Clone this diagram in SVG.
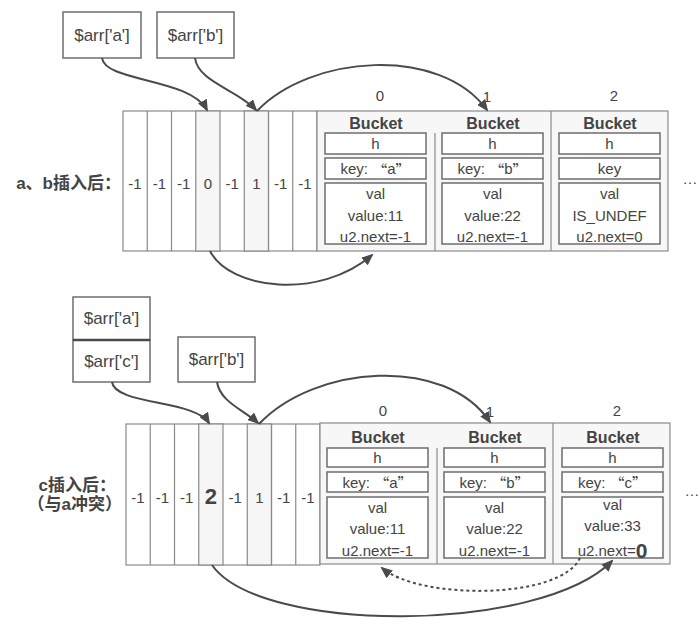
<svg xmlns="http://www.w3.org/2000/svg" width="700" height="618" viewBox="0 0 700 618">
<defs>
<marker id="ah" markerUnits="userSpaceOnUse" markerWidth="12" markerHeight="10" refX="10" refY="5" orient="auto">
<path d="M0,0 L12,5 L0,10 z" fill="#4a4a4a"/>
</marker>
<style>
.bg{fill:#ffffff}
.cell{fill:#ffffff;stroke:#8a8a8a;stroke-width:1.2}
.hl{fill:#f6f6f6;stroke:#8a8a8a;stroke-width:1.2}
.bk{fill:#f7f7f7;stroke:#8a8a8a;stroke-width:1.2}
.box{fill:#ffffff;stroke:#6e6e6e;stroke-width:1.5}
.ln{stroke:#8a8a8a;stroke-width:1.2;fill:none}
.t{font-family:"Liberation Sans",Arial,sans-serif;font-size:15px;fill:#444;text-anchor:middle;dominant-baseline:central}
.q{font-family:"Noto Sans CJK SC",sans-serif}
.tb{font-family:"Liberation Sans",Arial,sans-serif;font-size:16px;font-weight:bold;fill:#444;text-anchor:middle;dominant-baseline:central}
.tv{font-family:"Liberation Sans",Arial,sans-serif;font-size:17px;fill:#444;text-anchor:middle;dominant-baseline:central}
.cn{font-family:"Liberation Sans","Noto Sans CJK SC",sans-serif;font-size:17px;font-weight:bold;fill:#444;text-anchor:end;dominant-baseline:central}
.arr{fill:none;stroke:#4a4a4a;stroke-width:2;marker-end:url(#ah)}
.dash{fill:none;stroke:#4a4a4a;stroke-width:2;stroke-dasharray:3,3;marker-end:url(#ah)}
</style>
</defs>
<rect class="bg" x="0" y="0" width="700" height="618"/>

<!-- ===== Top diagram ===== -->
<g id="var-a-top">
<rect class="box" x="63" y="12" width="78" height="46"/>
<text class="tv" x="102" y="35">$arr['a']</text>
</g>
<g id="var-b-top">
<rect class="box" x="157" y="12" width="77" height="46"/>
<text class="tv" x="195.5" y="35">$arr['b']</text>
</g>
<text id="label-top" class="cn" x="121" y="183">a、b插入后：</text>

<g id="array-top">
<rect class="cell" x="123" y="111" width="194" height="140"/>
<rect class="hl" x="195.75" y="111" width="24.25" height="140"/>
<rect class="hl" x="244.25" y="111" width="24.25" height="140"/>
<line class="ln" x1="147.25" y1="111" x2="147.25" y2="251"/>
<line class="ln" x1="171.5" y1="111" x2="171.5" y2="251"/>
<line class="ln" x1="268.5" y1="111" x2="268.5" y2="251"/>
<line class="ln" x1="292.75" y1="111" x2="292.75" y2="251"/>
<text class="t" x="135" y="183">-1</text>
<text class="t" x="159.4" y="183">-1</text>
<text class="t" x="183.6" y="183">-1</text>
<text class="t" x="207.9" y="183">0</text>
<text class="t" x="232.1" y="183">-1</text>
<text class="t" x="256.4" y="183">1</text>
<text class="t" x="280.6" y="183">-1</text>
<text class="t" x="304.9" y="183">-1</text>
</g>

<g id="buckets-top">
<rect class="bk" x="317" y="111" width="351" height="140"/>
<line class="ln" x1="435" y1="133" x2="435" y2="251"/>
<line class="ln" x1="551" y1="111" x2="551" y2="251"/>
<text class="t" x="380" y="95">0</text>
<text class="t" x="487" y="96">1</text>
<text class="t" x="614" y="95">2</text>
<text class="t" x="690" y="178">…</text>
</g>
<g id="bucket0-top">
<text class="tb" x="376" y="123">Bucket</text>
<rect class="box" x="325" y="133" width="101" height="21"/>
<text class="t" x="375.5" y="143.5">h</text>
<rect class="box" x="325" y="158" width="101" height="21"/>
<text class="t" x="375.5" y="168.5">key: <tspan class="q">“</tspan>a<tspan class="q">”</tspan></text>
<rect class="box" x="325" y="183" width="101" height="61"/>
<text class="t" x="375.5" y="193">val</text>
<text class="t" x="375.5" y="215">value:11</text>
<text class="t" x="375.5" y="236">u2.next=-1</text>
</g>
<g id="bucket1-top">
<text class="tb" x="493" y="123">Bucket</text>
<rect class="box" x="442" y="133" width="101" height="21"/>
<text class="t" x="492.5" y="143.5">h</text>
<rect class="box" x="442" y="158" width="101" height="21"/>
<text class="t" x="492.5" y="168.5">key: <tspan class="q">“</tspan>b<tspan class="q">”</tspan></text>
<rect class="box" x="442" y="183" width="101" height="61"/>
<text class="t" x="492.5" y="193">val</text>
<text class="t" x="492.5" y="215">value:22</text>
<text class="t" x="492.5" y="236">u2.next=-1</text>
</g>
<g id="bucket2-top">
<text class="tb" x="610" y="123">Bucket</text>
<rect class="box" x="559" y="133" width="101" height="21"/>
<text class="t" x="609.5" y="143.5">h</text>
<rect class="box" x="559" y="158" width="101" height="21"/>
<text class="t" x="609.5" y="168.5">key</text>
<rect class="box" x="559" y="183" width="101" height="61"/>
<text class="t" x="609.5" y="193">val</text>
<text class="t" x="609.5" y="215">IS_UNDEF</text>
<text class="t" x="609.5" y="236">u2.next=0</text>
</g>

<!-- ===== Bottom diagram ===== -->
<g id="var-ac-bottom">
<rect class="box" x="73" y="297" width="77" height="43"/>
<text class="tv" x="111.5" y="318">$arr['a']</text>
<rect class="box" x="73" y="340" width="77" height="42"/>
<line x1="73" y1="340" x2="150" y2="340" stroke="#4a4a4a" stroke-width="2.5"/>
<text class="tv" x="111.5" y="361">$arr['c']</text>
</g>
<g id="var-b-bottom">
<rect class="box" x="178" y="337" width="77" height="45"/>
<text class="tv" x="216.5" y="359">$arr['b']</text>
</g>
<g id="label-bottom">
<text class="cn" x="116" y="485">c插入后：</text>
<text class="cn" x="122" y="504">（与a冲突）</text>
</g>

<g id="array-bottom">
<rect class="cell" x="126" y="424" width="194" height="141"/>
<rect class="hl" x="198.75" y="424" width="24.25" height="141"/>
<rect class="hl" x="247.25" y="424" width="24.25" height="141"/>
<line class="ln" x1="150.25" y1="424" x2="150.25" y2="565"/>
<line class="ln" x1="174.5" y1="424" x2="174.5" y2="565"/>
<line class="ln" x1="271.5" y1="424" x2="271.5" y2="565"/>
<line class="ln" x1="295.75" y1="424" x2="295.75" y2="565"/>
<text class="t" x="138" y="497">-1</text>
<text class="t" x="162.4" y="497">-1</text>
<text class="t" x="186.6" y="497">-1</text>
<text class="t" x="210.9" y="496" style="font-size:22px;font-weight:bold">2</text>
<text class="t" x="235.1" y="497">-1</text>
<text class="t" x="259.4" y="497">1</text>
<text class="t" x="283.6" y="497">-1</text>
<text class="t" x="307.9" y="497">-1</text>
</g>

<g id="buckets-bottom">
<rect class="bk" x="320" y="423" width="350" height="141"/>
<line class="ln" x1="437" y1="448" x2="437" y2="564"/>
<line class="ln" x1="553" y1="423" x2="553" y2="564"/>
<text class="t" x="383" y="410">0</text>
<text class="t" x="490" y="411">1</text>
<text class="t" x="617" y="410">2</text>
<text class="t" x="692" y="490">…</text>
</g>
<g id="bucket0-bottom">
<text class="tb" x="378" y="437">Bucket</text>
<rect class="box" x="327" y="448" width="101" height="19"/>
<text class="t" x="377.5" y="457.5">h</text>
<rect class="box" x="327" y="472" width="101" height="20"/>
<text class="t" x="377.5" y="482">key: <tspan class="q">“</tspan>a<tspan class="q">”</tspan></text>
<rect class="box" x="327" y="497" width="101" height="61"/>
<text class="t" x="377.5" y="507">val</text>
<text class="t" x="377.5" y="528">value:11</text>
<text class="t" x="377.5" y="550">u2.next=-1</text>
</g>
<g id="bucket1-bottom">
<text class="tb" x="495" y="437">Bucket</text>
<rect class="box" x="444" y="448" width="101" height="19"/>
<text class="t" x="494.5" y="457.5">h</text>
<rect class="box" x="444" y="472" width="101" height="20"/>
<text class="t" x="494.5" y="482">key: <tspan class="q">“</tspan>b<tspan class="q">”</tspan></text>
<rect class="box" x="444" y="497" width="101" height="61"/>
<text class="t" x="494.5" y="507">val</text>
<text class="t" x="494.5" y="528">value:22</text>
<text class="t" x="494.5" y="550">u2.next=-1</text>
</g>
<g id="bucket2-bottom">
<text class="tb" x="613" y="437">Bucket</text>
<rect class="box" x="562" y="448" width="101" height="19"/>
<text class="t" x="612.5" y="457.5">h</text>
<rect class="box" x="562" y="472" width="101" height="20"/>
<text class="t" x="612.5" y="482">key: <tspan class="q">“</tspan>c<tspan class="q">”</tspan></text>
<rect class="box" x="562" y="497" width="101" height="61"/>
<text class="t" x="612.5" y="504">val</text>
<text class="t" x="612.5" y="525">value:33</text>
<text class="t" x="612.5" y="550">u2.next=<tspan style="font-size:21px;font-weight:bold">0</tspan></text>
</g>

<!-- ===== Connectors ===== -->
<g id="connectors">
<path class="arr" d="M102,58 C105,82 190,78 207,110"/>
<path class="arr" d="M195,58 C198,82 238,90 256,110"/>
<path class="arr" d="M257,111 C310,55 440,45 487,110"/>
<path class="arr" d="M210,251 C230,290 320,300 372,255"/>
<path class="arr" d="M112,382 C115,405 195,400 209,423"/>
<path class="arr" d="M217,382 C220,402 244,410 258,423"/>
<path class="arr" d="M259,424 C315,365 445,355 490,422"/>
<path class="arr" d="M212,565 C260,634 540,634 612,561"/>
<path class="dash" d="M580,558 C560,600 420,600 382,568"/>
</g>
</svg>
